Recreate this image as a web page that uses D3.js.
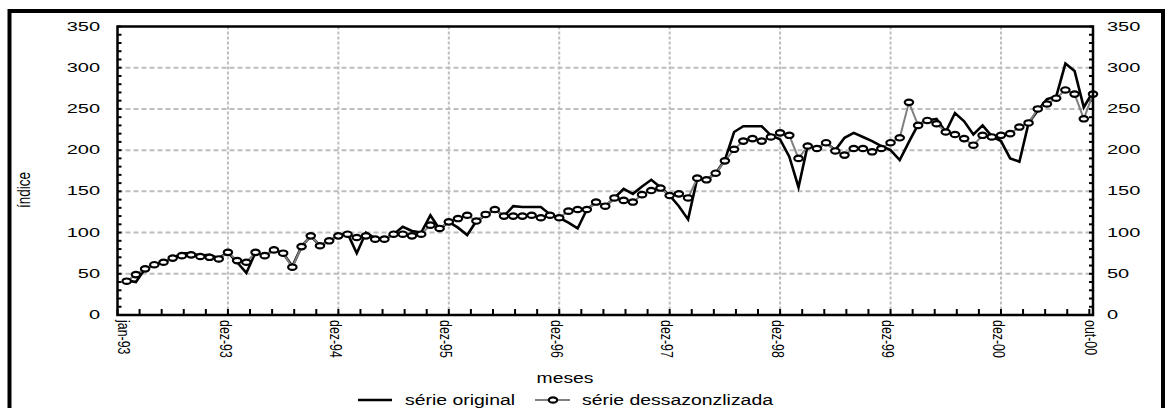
<!DOCTYPE html>
<html><head><meta charset="utf-8">
<script src="https://cdn.jsdelivr.net/npm/d3@7"></script>
<style>
html,body{margin:0;padding:0;background:#fff;}
text{font-family:"Liberation Sans",Arial,sans-serif;fill:#000;}
</style></head>
<body>
<svg id="chart" width="1166" height="408"></svg>
<script>
// ---- data ----
const original = [42,40,56,61,64,69,75,75,72,73,69,76,64,51,76,72,79,75,59,83,
  96,84,90,96,99,75,100,93,92,98,107,102,100,121,104,113,106,97,114,121,
  128,120,132,131,131,131,122,118,112,105,128,137,132,142,153,147,156,164,155,145,
  132,116,166,164,172,188,222,229,229,229,218,213,192,155,206,202,209,200,215,221,
  216,211,205,200,188,210,231,236,238,222,245,235,219,230,217,211,190,186,233,248,
  262,265,305,296,252,271];
const dessaz = [41,49,56,61,64,69,72,73,71,70,68,76,66,64,76,72,79,75,58,83,
  96,84,90,96,98,94,96,92,92,98,98,96,98,109,105,113,117,121,114,122,
  128,120,120,120,121,118,121,118,126,128,128,137,132,142,139,137,146,151,154,145,
  147,142,166,164,172,187,201,211,214,211,216,221,218,190,205,202,209,199,194,202,
  202,198,202,209,215,258,230,236,232,222,219,214,206,218,216,218,220,228,233,250,
  256,263,273,268,238,268];
const tickIndex = [0,11,23,35,47,59,71,83,95,105];
const tickLabels = ["jan-93","dez-93","dez-94","dez-95","dez-96","dez-97","dez-98","dez-99","dez-00","out-00"];
const yTicks = [0,50,100,150,200,250,300,350];
const seriesNames = ["série original","série dessazonzlizada"];

const svg = d3.select("#chart");
const L=117.5, R=1093, T=26.5, B=315;
const x = d3.scaleLinear().domain([-1,105]).range([L,R]);
const y = d3.scaleLinear().domain([0,350]).range([B,T]);

// outer frame
svg.append("rect").attr("x",9.5).attr("y",11).attr("width",1153.5).attr("height",430)
  .attr("fill","none").attr("stroke","#000").attr("stroke-width",4);

// grid
const g = svg.append("g");
g.selectAll(".hg").data(yTicks.filter(v=>v>0&&v<350)).join("line")
  .attr("x1",L).attr("x2",R).attr("y1",d=>y(d)).attr("y2",d=>y(d))
  .attr("stroke","#bdbdbd").attr("stroke-width",2).attr("stroke-dasharray","5,3");
g.selectAll(".vg").data(tickIndex.slice(1,-1)).join("line")
  .attr("x1",d=>x(d)).attr("x2",d=>x(d)).attr("y1",T).attr("y2",B)
  .attr("stroke","#bdbdbd").attr("stroke-width",2).attr("stroke-dasharray","3,2");

// minor ticks
const yMinor = d3.range(0,351,10);
svg.append("g").selectAll("line").data(yMinor).join("line")
  .attr("x1",L).attr("x2",L+4).attr("y1",d=>y(d)).attr("y2",d=>y(d))
  .attr("stroke","#000").attr("stroke-width",2);
svg.append("g").selectAll("line").data(yMinor).join("line")
  .attr("x1",R).attr("x2",R-4).attr("y1",d=>y(d)).attr("y2",d=>y(d))
  .attr("stroke","#000").attr("stroke-width",2);
const xMinor = d3.range(-5,41).map(k=>11+2.4*k).filter(v=>v>-1.01&&v<105);
svg.append("g").selectAll("line").data(xMinor).join("line")
  .attr("x1",d=>x(d)).attr("x2",d=>x(d)).attr("y1",B).attr("y2",B-6)
  .attr("stroke","#000").attr("stroke-width",2);

// series
const lineGen = d3.line().x((d,i)=>x(i)).y(d=>y(d));
svg.append("path").datum(original).attr("d",lineGen)
  .attr("fill","none").attr("stroke","#000").attr("stroke-width",2.6).attr("stroke-linejoin","miter");
svg.append("path").datum(dessaz).attr("d",lineGen)
  .attr("fill","none").attr("stroke","#808080").attr("stroke-width",2);
svg.append("g").selectAll("ellipse").data(dessaz).join("ellipse")
  .attr("cx",(d,i)=>x(i)).attr("cy",d=>y(d)).attr("rx",4.2).attr("ry",2.7)
  .attr("fill","#fff").attr("stroke","#000").attr("stroke-width",2.2);

// plot frame
svg.append("rect").attr("x",L).attr("y",T).attr("width",R-L).attr("height",B-T)
  .attr("fill","none").attr("stroke","#000").attr("stroke-width",2.5);

// y labels
svg.append("g").selectAll("text").data(yTicks).join("text")
  .attr("transform",d=>`translate(100,${y(d)}) scale(1.6,1)`)
  .attr("text-anchor","end").attr("dominant-baseline","central")
  .style("font-size","12.5px").text(d=>d);
svg.append("g").selectAll("text").data(yTicks).join("text")
  .attr("transform",d=>`translate(1107,${y(d)}) scale(1.6,1)`)
  .attr("text-anchor","start").attr("dominant-baseline","central")
  .style("font-size","12.5px").text(d=>d);

// x labels
svg.append("g").selectAll("text").data(tickIndex).join("text")
  .attr("transform",(d,i)=>`translate(${x(d)-2},320) scale(1.4,1) rotate(90)`)
  .attr("text-anchor","start").attr("dominant-baseline","central")
  .style("font-size","12.4px").text((d,i)=>tickLabels[i]);

// axis titles
svg.append("text").attr("transform","translate(565,383) scale(1.38,1)")
  .attr("text-anchor","middle").style("font-size","14px").text("meses");
svg.append("text").attr("transform","translate(23,190) scale(1.4,1) rotate(-90)")
  .attr("text-anchor","middle").attr("dominant-baseline","central")
  .style("font-size","13.5px").text("índice");

// legend
const lg = svg.append("g");
lg.append("line").attr("x1",358).attr("x2",392).attr("y1",400).attr("y2",400)
  .attr("stroke","#000").attr("stroke-width",2.6);
lg.append("text").attr("transform","translate(405,405) scale(1.34,1)")
  .style("font-size","14.5px").text(seriesNames[0]);
lg.append("line").attr("x1",535).attr("x2",570).attr("y1",400).attr("y2",400)
  .attr("stroke","#808080").attr("stroke-width",2);
lg.append("ellipse").attr("cx",553).attr("cy",400).attr("rx",4.2).attr("ry",2.7)
  .attr("fill","#fff").attr("stroke","#000").attr("stroke-width",2.2);
lg.append("text").attr("transform","translate(582,405) scale(1.34,1)")
  .style("font-size","14.5px").text(seriesNames[1]);
</script>
</body></html>
